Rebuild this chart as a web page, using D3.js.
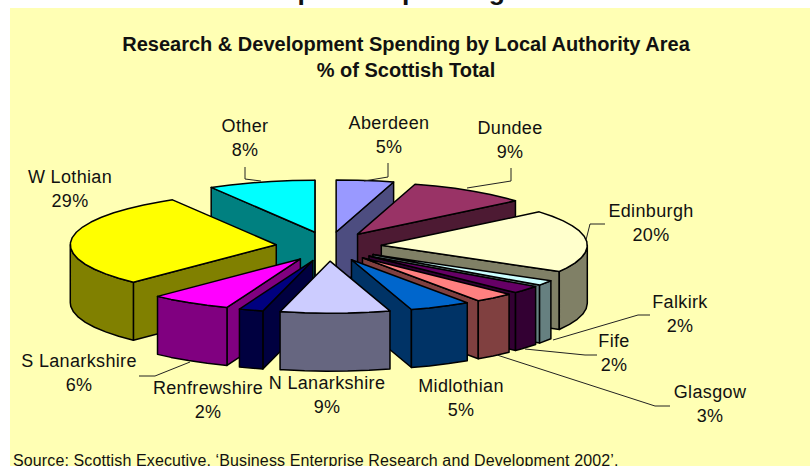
<!DOCTYPE html>
<html>
<head>
<meta charset="utf-8">
<script src="https://cdn.jsdelivr.net/npm/d3@7"></script>
<style>
  html, body { margin: 0; padding: 0; background: #fff; overflow: hidden; }
  text { font-family: "Liberation Sans", Arial, sans-serif; fill: #111; }
</style>
</head>
<body>
<div id="viz"></div>
<script>
// data (labels show the rounded values)
var areas = ['Aberdeen', 'Dundee', 'Edinburgh', 'Falkirk', 'Fife', 'Glasgow',
    'Midlothian', 'N Lanarkshire', 'Renfrewshire', 'S Lanarkshire', 'W Lothian', 'Other'];
var shares = [4.5, 9.4, 19.5, 1.6, 2.4, 3.1, 4.8, 8.6, 1.9, 6.4, 29.4, 8.4];

var topColors = ['#9999FF', '#993366', '#FFFFCC', '#CCFFFF', '#660066', '#FF8080',
    '#0066CC', '#CCCCFF', '#000080', '#FF00FF', '#FFFF00', '#00FFFF'];
var sideColors = ['#4D4D80', '#4D1A33', '#808066', '#668080', '#330033', '#804040',
    '#003366', '#666680', '#000040', '#800080', '#808000', '#008080'];

// label anchors: centre x, first baseline
var labelX = [389, 510, 651, 680, 614, 710, 461, 327, 208, 79, 70, 245];
var labelY = [129, 134, 217, 308, 347, 398, 392, 389, 394, 367, 183, 132];

// leader lines: label end, elbow, rim end (null = no leader)
var leaders = [
    [[388, 163], [388, 177], [364, 181]],
    [[511, 168], [511, 181], [467, 188]],
    [[605, 224], [590, 224], [586, 240]],
    [[650, 315], [638, 315], [553, 340]],
    [[597, 355], [585, 355], [525, 349]],
    [[670, 406], [655, 406], [497, 355]],
    null,
    null,
    null,
    [[139, 376], [155, 376], [190, 362]],
    null,
    [[245, 167], [245, 179], [261, 181]]
];

var width = 810, height = 466;

// 3d pie settings
var cx = 328.7, cy = 246.5,
    rx = 206, ry = 52,
    explodeX = 52.8, explodeY = 14.7,
    depth = 58,
    arcStep = 6 * Math.PI / 180;

var svg = d3.select('#viz').append('svg')
    .attr('width', width)
    .attr('height', height)
    .style('display', 'block');

svg.append('rect')
    .attr('x', 10).attr('y', 8)
    .attr('width', width - 10).attr('height', height - 8)
    .attr('fill', '#FFFFB4');

// heading of the page above, cut off by the top of the picture
svg.append('text')
    .attr('x', 505).attr('y', 0)
    .attr('text-anchor', 'end')
    .attr('font-size', 26.5)
    .attr('font-weight', 'bold')
    .text('Research and Development Spending');

var titleLines = ['Research & Development Spending by Local Authority Area', '% of Scottish Total'];
svg.selectAll('.title').data(titleLines).enter().append('text')
    .attr('class', 'title')
    .attr('x', 406)
    .attr('y', function(d, i) { return 51 + i * 26; })
    .attr('text-anchor', 'middle')
    .attr('font-size', 20)
    .attr('font-weight', 'bold')
    .text(function(d) { return d; });

svg.append('text')
    .attr('x', 13).attr('y', 466)
    .attr('font-size', 16)
    .attr('letter-spacing', 0.12)
    .text('Source: Scottish Executive, \u2018Business Enterprise Research and Development 2002\u2019.');

var pie = d3.pie().sort(null).value(function(d) { return d; });
var arcs = pie(shares);

var lineFunc = d3.line();

function project(ox, oy, a, z) {
    return [ox + Math.sin(a) * rx, oy - Math.cos(a) * ry + z];
}

function rim(a0, a1, z, ox, oy) {
    var pts = d3.range(a0, a1, arcStep).concat([a1]);
    return pts.map(function(a) { return project(ox, oy, a, z); });
}

function face(g, pts, fill) {
    g.append('path')
        .attr('d', lineFunc(pts) + 'Z')
        .attr('fill', fill)
        .attr('stroke', '#000')
        .attr('stroke-width', 1.5)
        .attr('stroke-linejoin', 'round');
}

// back slices first
var order = d3.range(arcs.length).sort(function(a, b) {
    var ma = (arcs[a].startAngle + arcs[a].endAngle) / 2,
        mb = (arcs[b].startAngle + arcs[b].endAngle) / 2;
    return Math.cos(mb) - Math.cos(ma);
});

order.forEach(function(i) {
    var d = arcs[i],
        mid = (d.startAngle + d.endAngle) / 2,
        ox = cx + Math.sin(mid) * explodeX,
        oy = cy - Math.cos(mid) * explodeY,
        g = svg.append('g'),
        apex = [ox, oy],
        apexLow = [ox, oy + depth];

    // radial wall on the start side
    if (Math.sin(d.startAngle) < 0) {
        face(g, [apex, project(ox, oy, d.startAngle, 0), project(ox, oy, d.startAngle, depth), apexLow], sideColors[i]);
    }
    // radial wall on the end side
    if (Math.sin(d.endAngle) > 0) {
        face(g, [apex, project(ox, oy, d.endAngle, 0), project(ox, oy, d.endAngle, depth), apexLow], sideColors[i]);
    }
    // outer wall, near half of the rim only
    var a0 = Math.max(d.startAngle, Math.PI / 2),
        a1 = Math.min(d.endAngle, Math.PI * 1.5);
    if (a1 > a0) {
        face(g, rim(a0, a1, 0, ox, oy).concat(rim(a0, a1, depth, ox, oy).reverse()), sideColors[i]);
    }
    // top
    face(g, [apex].concat(rim(d.startAngle, d.endAngle, 0, ox, oy)), topColors[i]);
});

// leaders
leaders.forEach(function(l) {
    if (!l) return;
    svg.append('path')
        .attr('d', lineFunc(l))
        .attr('fill', 'none')
        .attr('stroke', '#222')
        .attr('stroke-width', 1);
});

// labels
areas.forEach(function(name, i) {
    var t = svg.append('text')
        .attr('text-anchor', 'middle')
        .attr('font-size', 18)
        .attr('letter-spacing', 0.35);
    t.append('tspan').attr('x', labelX[i]).attr('y', labelY[i]).text(name);
    t.append('tspan').attr('x', labelX[i]).attr('y', labelY[i] + 24).text(Math.round(shares[i]) + '%');
});
</script>
</body>
</html>
